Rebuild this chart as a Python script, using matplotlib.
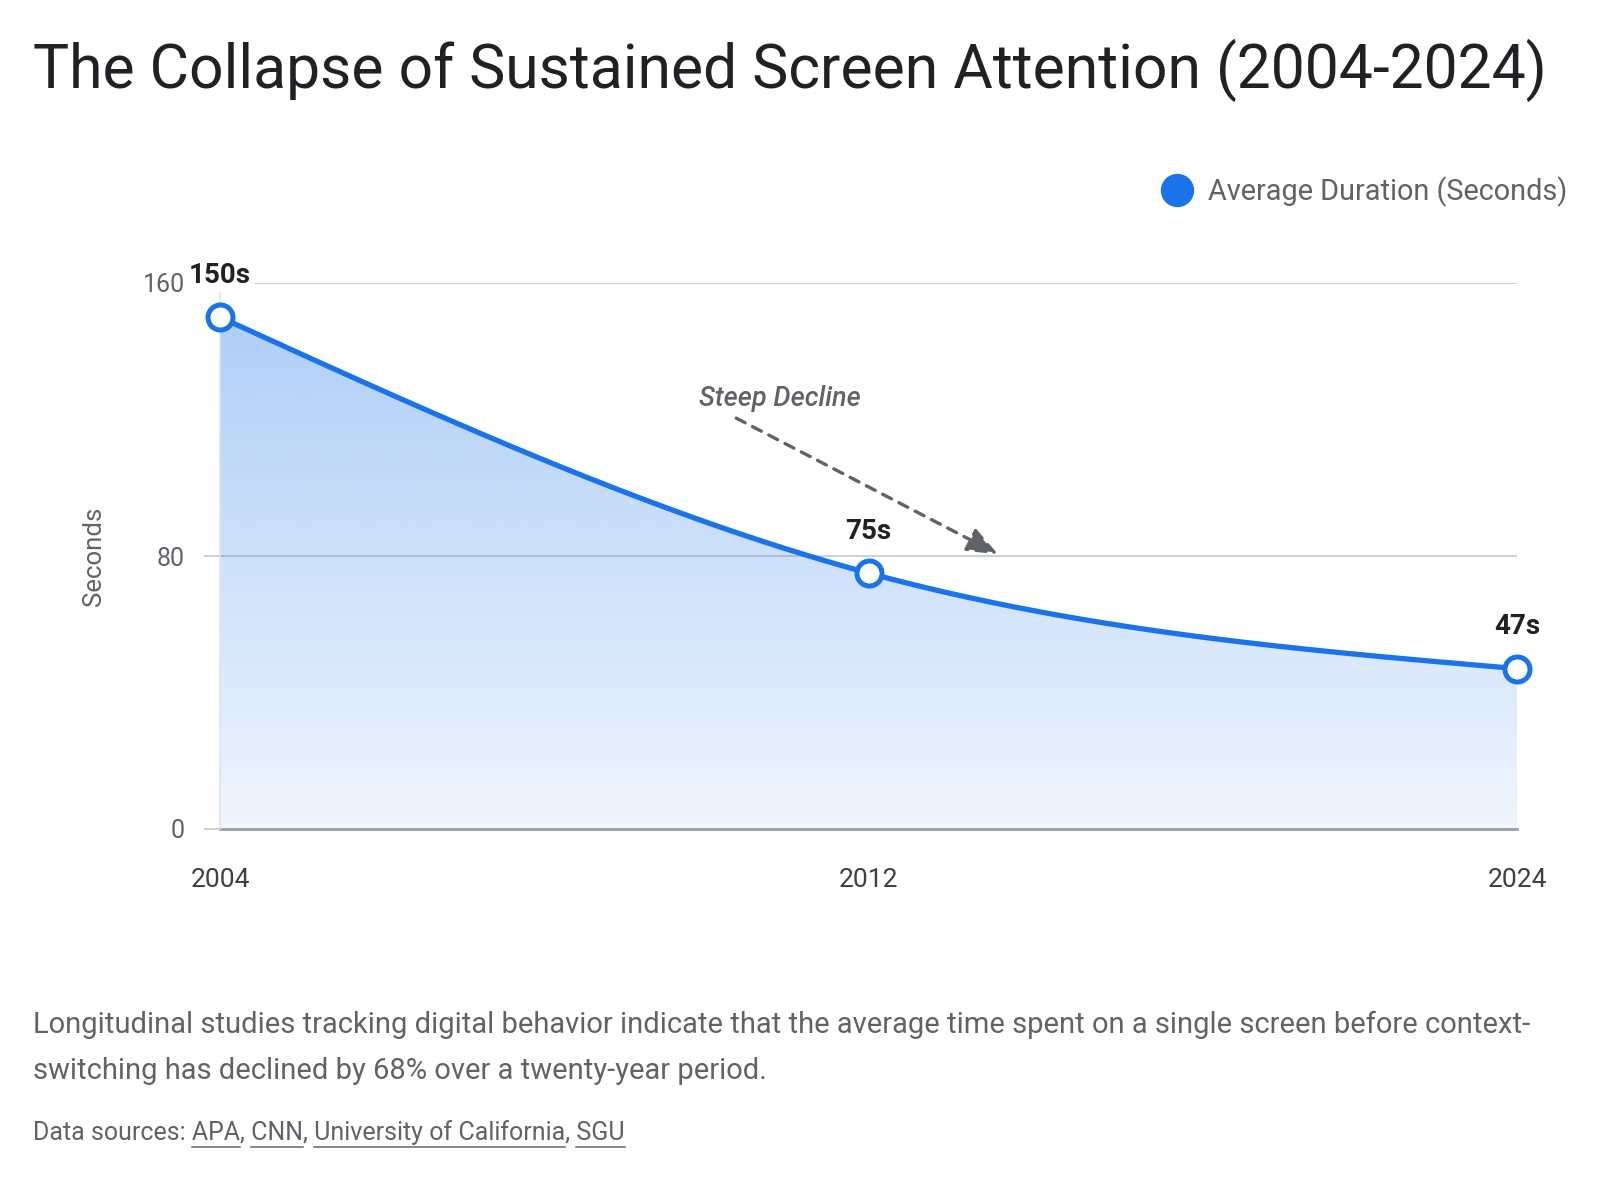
#!/usr/bin/env python3
# attention_chart.py

import numpy as np
import matplotlib

matplotlib.use("Agg")
import matplotlib.pyplot as plt
from matplotlib.lines import Line2D
from matplotlib.patches import Polygon

plt.rcParams["font.family"] = ["Roboto", "DejaVu Sans"]

# data
years = ["2004", "2012", "2024"]
seconds = [150, 75, 47]
point_labels = ["150s", "75s", "47s"]
y_ticks = [0, 80, 160]

title = "The Collapse of Sustained Screen Attention (2004-2024)"
series_name = "Average Duration (Seconds)"
caption_lines = [
    "Longitudinal studies tracking digital behavior indicate that the average time spent on a single screen before context-",
    "switching has declined by 68% over a twenty-year period.",
]
sources = ["APA", "CNN", "University of California", "SGU"]

BLUE = "#1a73e8"
DARK = "#202124"
GRAY = "#5f6368"


def monotone_curve(x, y, n=200):
    # monotone cubic (same as d3 curveMonotoneX)
    x = np.asarray(x, float)
    y = np.asarray(y, float)
    h = np.diff(x)
    s = np.diff(y) / h
    t = np.zeros_like(y)
    for i in range(1, len(x) - 1):
        p = (s[i - 1] * h[i] + s[i] * h[i - 1]) / (h[i - 1] + h[i])
        t[i] = (np.sign(s[i - 1]) + np.sign(s[i])) * min(
            abs(s[i - 1]), abs(s[i]), 0.5 * abs(p)
        )
    t[0] = (3 * s[0] - t[1]) / 2
    t[-1] = (3 * s[-1] - t[-2]) / 2
    xs, ys = [], []
    for i in range(len(x) - 1):
        u = np.linspace(0, 1, n)
        h00 = 2 * u**3 - 3 * u**2 + 1
        h10 = u**3 - 2 * u**2 + u
        h01 = -2 * u**3 + 3 * u**2
        h11 = u**3 - u**2
        xs.append(x[i] + u * h[i])
        ys.append(h00 * y[i] + h10 * h[i] * t[i] + h01 * y[i + 1] + h11 * h[i] * t[i + 1])
    return np.concatenate(xs), np.concatenate(ys)


fig = plt.figure(figsize=(16, 12), dpi=100)
W, H = 1600, 1200
ax = fig.add_axes([220 / W, 1 - 829 / H, (1517 - 220) / W, (829 - 283) / H])

xi = np.arange(len(years))
cx, cy = monotone_curve(xi, seconds)

# gradient fill under the curve
rgb = matplotlib.colors.to_rgb(BLUE)
grad = np.zeros((256, 1, 4))
grad[:, 0, :3] = rgb
grad[:, 0, 3] = np.linspace(0.07, 0.35, 256)
img = ax.imshow(
    grad,
    extent=[xi[0], xi[-1], 0, max(seconds)],
    origin="lower",
    aspect="auto",
    zorder=1,
)
verts = np.column_stack(
    [np.concatenate([cx, [cx[-1], cx[0]]]), np.concatenate([cy, [0, 0]])]
)
clip = Polygon(verts, closed=True, facecolor="none", edgecolor="none")
ax.add_patch(clip)
img.set_clip_path(clip)

ax.plot(cx, cy, color=BLUE, lw=3.8, zorder=3, solid_capstyle="round")
ax.plot(
    xi,
    seconds,
    ls="none",
    marker="o",
    markersize=18,
    markerfacecolor="white",
    markeredgecolor=BLUE,
    markeredgewidth=3.6,
    zorder=4,
    clip_on=False,
)

for x, v, lab in zip(xi, seconds, point_labels):
    ax.annotate(
        lab,
        (x, v),
        xytext=(0, 30),
        textcoords="offset points",
        ha="center",
        va="center",
        fontsize=20,
        fontweight="bold",
        color=DARK,
        bbox=dict(boxstyle="square,pad=0.1", facecolor="white", edgecolor="none"),
        zorder=5,
    )

# annotation arrow
ax.annotate(
    "",
    xy=(1.2, 80.5),
    xytext=(0.796, 120.4),
    arrowprops=dict(
        arrowstyle="-|>,head_length=1.9,head_width=0.75",
        color=GRAY,
        lw=2.4,
        linestyle=(0, (3, 2.5)),
        shrinkA=0,
        shrinkB=0,
    ),
    zorder=6,
)
ax.text(
    0.864,
    126.3,
    "Steep Decline",
    ha="center",
    va="center",
    fontsize=19.5,
    fontstyle="italic",
    fontweight="medium",
    color=GRAY,
    zorder=6,
)

ax.set_xlim(xi[0], xi[-1])
ax.set_ylim(0, 160)
ax.set_xticks(xi)
ax.set_xticklabels(years)
ax.set_yticks(y_ticks)
ax.grid(axis="y", color="#c8c8c8", lw=1.2, zorder=0)
ax.set_axisbelow(True)
ax.tick_params(axis="x", length=0, pad=28, labelsize=19, labelcolor="#3c4043")
ax.tick_params(
    axis="y", length=11.5, width=1.2, color="#c8c8c8", pad=14, labelsize=18,
    labelcolor=GRAY,
)
for side in ["top", "right"]:
    ax.spines[side].set_visible(False)
ax.spines["left"].set_color("#e3e3e3")
ax.spines["left"].set_linewidth(1.2)
ax.spines["bottom"].set_color("#9aa0a6")
ax.spines["bottom"].set_linewidth(2)
ax.spines["bottom"].set_zorder(2)

# text around the chart
fig.text(33 / W, 1 - 88 / H, title, fontsize=43.7, color=DARK, va="baseline")
fig.text(
    94 / W, 1 - 556 / H, "Seconds", rotation=90, fontsize=18.5, color=GRAY,
    ha="center", va="center",
)
handle = Line2D([], [], ls="none", marker="o", markersize=23, color=BLUE)
fig.legend(
    handles=[handle],
    labels=[series_name],
    loc="center right",
    bbox_to_anchor=(1567 / W, 1 - 192 / H),
    frameon=False,
    fontsize=20.8,
    labelcolor=GRAY,
    handletextpad=0.55,
    borderpad=0,
    borderaxespad=0,
    handlelength=1.0,
)

for i, line in enumerate(caption_lines):
    fig.text(33 / W, 1 - (1025 + 46 * i) / H, line, fontsize=21, color=GRAY,
             va="center")

# sources line with underlined names
SRC_SIZE = 18
renderer = fig.canvas.get_renderer()
full = "Data sources: " + ", ".join(sources)
sy = 1 - 1133 / H
src = fig.text(33 / W, sy, full, fontsize=SRC_SIZE, color=GRAY, va="center")
bb_full = src.get_window_extent(renderer)


def text_width(s):
    t = fig.text(0, 0, s, fontsize=SRC_SIZE)
    w = t.get_window_extent(renderer).width
    t.remove()
    return w


prefix = "Data sources: "
for name in sources:
    w_name = text_width(name)
    x1 = bb_full.x0 + text_width(prefix + name)
    x0 = x1 - w_name
    fig.add_artist(
        Line2D([x0 / W, x1 / W], [sy - 14 / H, sy - 14 / H], color=GRAY, lw=1.1)
    )
    prefix += name + ", "

fig.savefig("out.png", dpi=100, facecolor="white")
